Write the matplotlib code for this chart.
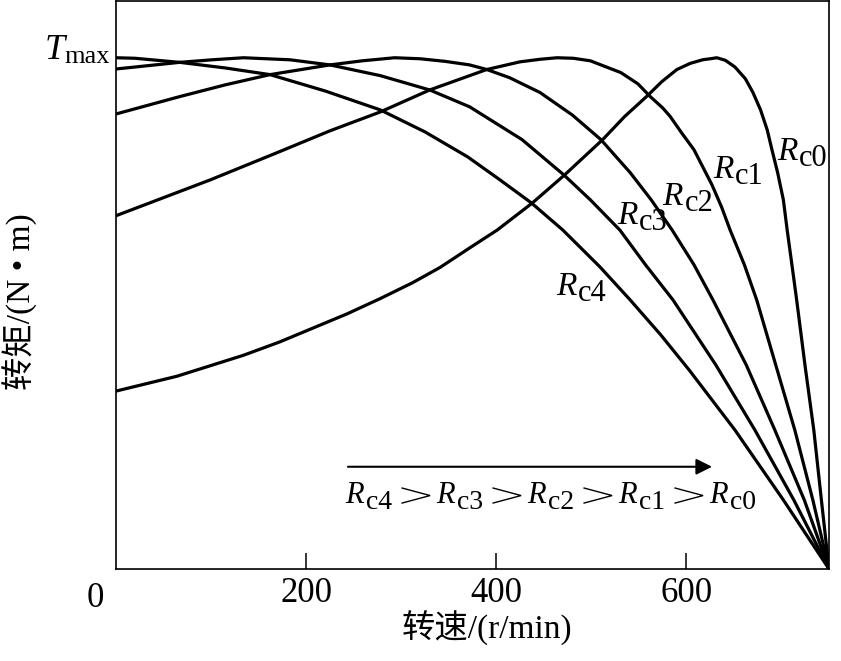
import matplotlib
matplotlib.use('Agg')
import matplotlib.pyplot as plt
from matplotlib.lines import Line2D
from matplotlib.transforms import Affine2D, offset_copy

plt.rcParams['font.family'] = ['Liberation Serif', 'Noto Sans CJK SC']

# speed in r/min, torque as a fraction of Tmax
n_c0 = [0, 64, 134, 172, 243, 278, 312, 341, 372, 401, 438, 472, 512, 535, 558, 574,
        590, 604, 617, 625, 632, 641, 651, 662, 670, 678, 685, 690, 696, 702, 706,
        711, 716, 725, 734, 742, 750]
t_c0 = [0.348, 0.377, 0.418, 0.444, 0.499, 0.529, 0.560, 0.590, 0.628, 0.663, 0.716,
        0.771, 0.840, 0.885, 0.924, 0.953, 0.977, 0.989, 0.996, 0.998, 1.0, 0.995,
        0.982, 0.959, 0.932, 0.898, 0.859, 0.820, 0.775, 0.722, 0.663, 0.595, 0.526,
        0.395, 0.272, 0.135, 0.0]

n_c1 = [0, 99, 169, 225, 278, 330, 390, 425, 446, 464, 481, 499, 531, 549, 562, 575,
        583, 595, 608, 627, 637, 646, 661, 674, 694, 714, 733, 750]
t_c1 = [0.691, 0.761, 0.814, 0.857, 0.894, 0.937, 0.977, 0.992, 0.997, 1.0, 0.999,
        0.994, 0.971, 0.949, 0.924, 0.902, 0.885, 0.853, 0.820, 0.751, 0.708, 0.663,
        0.595, 0.526, 0.399, 0.272, 0.135, 0.0]

n_c2 = [0, 67, 115, 162, 225, 259, 293, 320, 346, 372, 390, 414, 446, 480, 510, 541,
        563, 585, 608, 628, 663, 693, 724, 750]
t_c2 = [0.890, 0.924, 0.947, 0.967, 0.986, 0.994, 1.0, 0.998, 0.993, 0.986, 0.977,
        0.961, 0.932, 0.888, 0.840, 0.775, 0.722, 0.663, 0.595, 0.526, 0.399, 0.272,
        0.135, 0.0]

n_c3 = [0, 67, 101, 134, 183, 225, 278, 330, 372, 427, 471, 499, 530, 557, 586, 631,
        672, 713, 750]
t_c3 = [0.978, 0.991, 0.996, 1.0, 0.996, 0.986, 0.965, 0.937, 0.904, 0.840, 0.771,
        0.722, 0.663, 0.595, 0.526, 0.399, 0.272, 0.135, 0.0]

n_c4 = [0, 20, 67, 115, 162, 220, 278, 325, 370, 404, 437, 470, 509, 541, 573, 603,
        651, 702, 750]
t_c4 = [1.0, 0.999, 0.991, 0.980, 0.967, 0.935, 0.898, 0.855, 0.806, 0.761, 0.716,
        0.663, 0.591, 0.526, 0.458, 0.389, 0.272, 0.135, 0.0]

curves = [(n_c0, t_c0), (n_c1, t_c1), (n_c2, t_c2), (n_c3, t_c3), (n_c4, t_c4)]

# curve labels: subscript, speed and torque at the lower-left of the R
labels = [('c0', 695, 0.800),
          ('c1', 628, 0.765),
          ('c2', 575, 0.712),
          ('c3', 527, 0.675),
          ('c4', 463, 0.536)]
order = ['c4', 'c3', 'c2', 'c1', 'c0']

xticks = [200, 400, 600]

fig = plt.figure(figsize=(8.41, 6.61), dpi=100)
ax = fig.add_axes([116 / 841, 92 / 661, 713 / 841, 568 / 661])

for n, t in curves:
    ax.plot(n, t, color='black', lw=2.3, solid_joinstyle='round', solid_capstyle='round')

ax.set_xlim(0, 750)
ax.set_ylim(0, 1.111)
ax.set_xticks(xticks)
ax.set_xticklabels([str(v) for v in xticks])
ax.set_yticks([])
ax.tick_params(axis='x', direction='in', length=11.5, width=1.1, pad=6, labelsize=25)
for sp in ax.spines.values():
    sp.set_linewidth(1.2)


def r_label(x, y, sub, size, subsize, drop):
    r = ax.text(x, y, 'R', fontsize=size, style='italic', ha='left', va='baseline')
    ax.annotate(sub, xy=(1, y), xycoords=(r, 'data'), xytext=(1.0, -drop),
                textcoords='offset points', fontsize=subsize, ha='left', va='baseline')


for sub, x, y in labels:
    r_label(x, y, sub, 24, 22, 4.6)

# zero label sits left of the axis corner
ax.text(-22, -0.025, '0', fontsize=25, ha='center', va='top')

# T_max on the left
mx = ax.annotate('max', xy=(-6, 0.997), xycoords='data', xytext=(0, -2.7),
                 textcoords='offset points', fontsize=19, ha='right', va='baseline',
                 annotation_clip=False)
ax.annotate('T', xy=(0, 0.997), xycoords=(mx, 'data'), xytext=(0, 0),
            textcoords='offset points', fontsize=26, style='italic', ha='right',
            va='baseline', annotation_clip=False)

# arrow and inequality
ax.annotate('', xy=(627, 0.200), xytext=(244, 0.200),
            arrowprops=dict(arrowstyle='-|>', color='black', lw=1.5,
                            mutation_scale=24, shrinkA=0, shrinkB=0))

x0, y0 = 241, 0.129
step = 91  # pixels from one R to the next
for k, sub in enumerate(order):
    ax.text(x0, y0, 'R', fontsize=22, style='italic', ha='left', va='baseline',
            transform=offset_copy(ax.transData, fig=fig, x=k * step, y=0, units='dots'))
    ax.text(x0, y0, sub, fontsize=20, ha='left', va='baseline',
            transform=offset_copy(ax.transData, fig=fig, x=k * step + 21, y=-6, units='dots'))
    if k < len(order) - 1:
        px, py = ax.transData.transform((x0, y0))
        gx = k * step + 57
        ax.add_line(Line2D([gx, gx + 28, gx], [15, 7.5, 0], color='black', lw=1.0,
                           solid_joinstyle='miter', clip_on=False,
                           transform=Affine2D().translate(px, py)))

ax.set_xlabel('转速/(r/min)', fontsize=24)
ax.xaxis.set_label_coords((487 - 116) / 713, (569 - 628) / 568)
ax.xaxis.label.set_va('center')
ax.set_ylabel('转矩/(N • m)', fontsize=24)
ax.yaxis.set_label_coords((20 - 116) / 713, (569 - 302) / 568)
ax.yaxis.label.set_va('center')

fig.savefig('out.png', dpi=100)
